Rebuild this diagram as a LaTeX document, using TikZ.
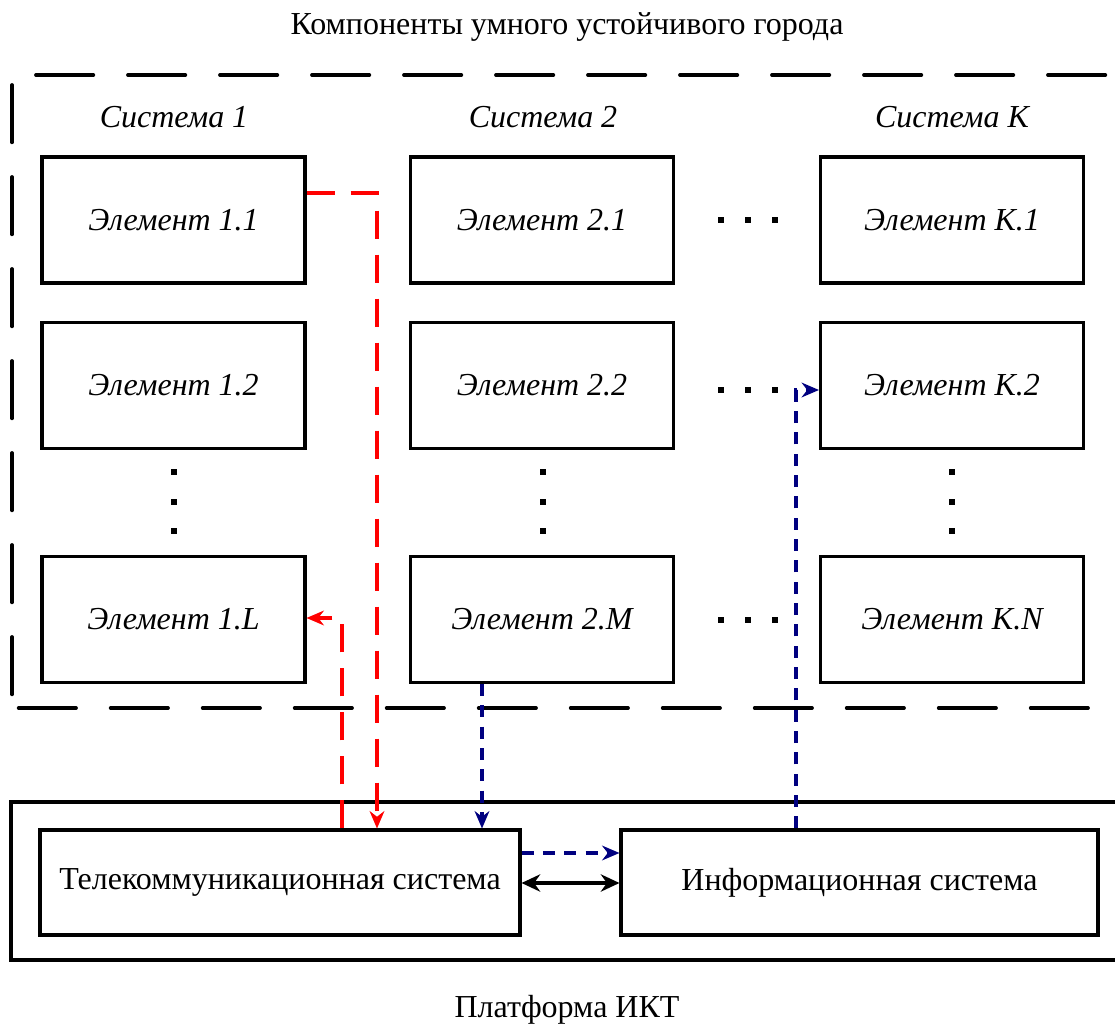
\documentclass[tikz,border=0pt]{standalone}
\usepackage{fontspec}
\setmainfont{Liberation Serif}
\usetikzlibrary{arrows.meta}
\begin{document}
\begin{tikzpicture}[x=0.75pt,y=-0.75pt,
  box/.style={draw,line width=2.3pt,minimum width=263*0.75pt,minimum height=126*0.75pt,inner sep=0pt,font=\fontsize{24}{28}\selectfont\itshape},
  sysbox/.style={draw,line width=2.3pt,minimum width=480*0.75pt,minimum height=105*0.75pt,inner sep=0pt,font=\fontsize{24}{28}\selectfont},
  lbl/.style={font=\fontsize{24}{28}\selectfont},
  ilbl/.style={font=\fontsize{24}{28}\selectfont\itshape},
  bigdash/.style={line width=2.8pt,line cap=round,dash pattern=on 43pt off 26pt},
  tip/.style={-{Stealth[length=13pt,width=11pt]}},
  redline/.style={red,line width=2.3pt,dash pattern=on 21pt off 12pt,tip},
  blueline/.style={blue!50!black,line width=2.3pt,dash pattern=on 9pt off 7pt,tip},
  dot/.style={fill,inner sep=0pt,minimum size=4.5pt}
]
\useasboundingbox (0,0) rectangle (1115,1027);
\node[lbl] (title) at (567,27) {Компоненты умного устойчивого города};
\node[lbl] (plat) at (567,1010) {Платформа ИКТ};
% outer dashed frame
\coordinate (fa) at (36,75);
\coordinate (fb) at (1115,75);
\coordinate (fc) at (12,85);
\coordinate (fd) at (12,700);
\coordinate (fe) at (1088,708);
\coordinate (ff) at (12,708);
\draw[bigdash] (fa) -- (fb);
\draw[bigdash] (fc) -- (fd);
\draw[bigdash] (fe) -- (ff);
% system labels
\node[ilbl] (s1) at (174,117) {Система 1};
\node[ilbl] (s2) at (543,117) {Система 2};
\node[ilbl] (sk) at (952,117) {Система K};
% boxes
\node[box] (e11) at (173.5,220) {Элемент 1.1};
\node[box] (e12) at (173.5,385.5) {Элемент 1.2};
\node[box] (e1L) at (173.5,619.5) {Элемент 1.L};
\node[box] (e21) at (542,220) {Элемент 2.1};
\node[box] (e22) at (542,385.5) {Элемент 2.2};
\node[box] (e2M) at (542,619.5) {Элемент 2.M};
\node[box] (eK1) at (952,220) {Элемент K.1};
\node[box] (eK2) at (952,385.5) {Элемент K.2};
\node[box] (eKN) at (952,619.5) {Элемент K.N};
% dots
\foreach \y/\n in {220/a,390/b,620/c}{
  \node[dot] (h1\n) at (721,\y) {};
  \node[dot] (h2\n) at (748,\y) {};
  \node[dot] (h3\n) at (775,\y) {};
}
\foreach \x/\n in {174/a,543/b,952/c}{
  \node[dot] (v1\n) at (\x,472) {};
  \node[dot] (v2\n) at (\x,502) {};
  \node[dot] (v3\n) at (\x,531) {};
}
% platform
\node[draw,line width=2.3pt,minimum width=1110*0.75pt,minimum height=158*0.75pt,inner sep=0pt] (platbox) at (566,881) {};
\node[sysbox] (tele) at (280,882.5) {Телекоммуникационная система};
\node[sysbox,minimum width=477*0.75pt] (info) at (859.5,882.5) {Информационная система};
% red connectors
\coordinate (r1) at (377,193);
\draw[redline] (e11.east |- r1) -- (r1) -- (r1 |- tele.north);
\coordinate (r2) at (342,618);
\draw[redline] (r2 |- tele.north) -- (r2) -- (e1L.east |- r2);
% blue connectors
\coordinate (b0) at (482,0);
\draw[blueline] (b0 |- e2M.south) -- (b0 |- tele.north);
\coordinate (b1) at (796,390);
\draw[blueline] (b1 |- info.north) -- (b1) -- (eK2.west |- b1);
\coordinate (b2) at (570,853);
\draw[blueline] (tele.east |- b2) -- (info.west |- b2);
\coordinate (b3) at (570,883);
\draw[line width=2.3pt,{Stealth[length=14pt,width=13pt]}-{Stealth[length=14pt,width=13pt]}] (tele.east |- b3) -- (info.west |- b3);
\end{tikzpicture}
\end{document}
